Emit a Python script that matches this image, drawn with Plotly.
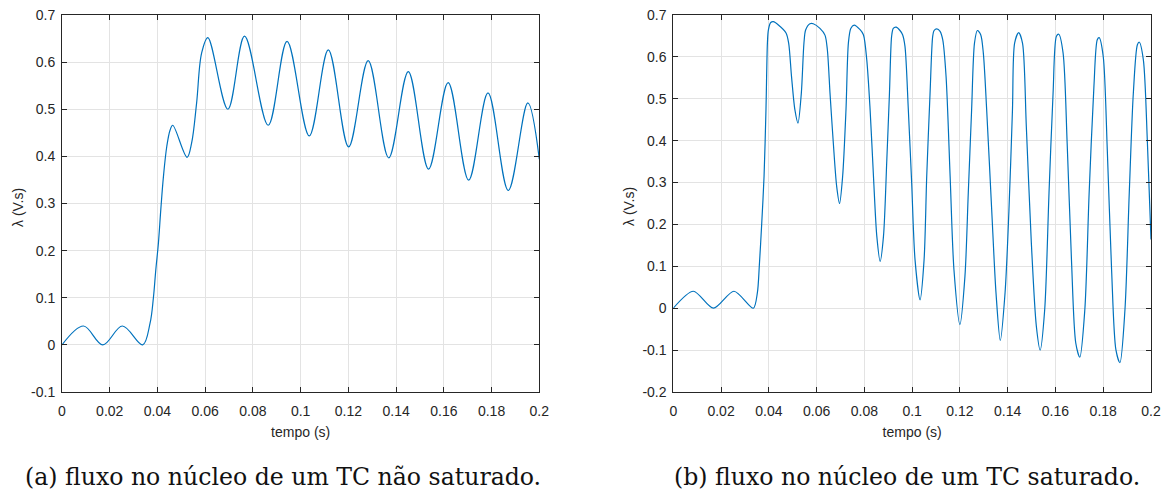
import plotly.graph_objects as go

# ---- data ----
t_a = [0.0, 0.0090, 0.0171, 0.0253, 0.0338, 0.0369, 0.0383, 0.0393, 0.0404, 0.0414,
       0.0425, 0.0439, 0.0453, 0.0464, 0.0524, 0.0543, 0.0564, 0.0585, 0.0611, 0.0695,
       0.0765, 0.0864, 0.0943, 0.1036, 0.1116, 0.1201, 0.1283, 0.1369, 0.1451, 0.1536,
       0.1618, 0.1704, 0.1785, 0.1870, 0.1952, 0.2000]
lam_a = [0.0, 0.040, 0.000, 0.040, 0.000, 0.046, 0.100, 0.159, 0.216, 0.287,
         0.357, 0.421, 0.456, 0.466, 0.398, 0.428, 0.513, 0.619, 0.652, 0.500,
         0.655, 0.466, 0.644, 0.4435, 0.626, 0.420, 0.603, 0.397, 0.580, 0.373,
         0.5565, 0.3495, 0.5346, 0.3276, 0.5134, 0.394]

t_b = [0.0, 0.0084, 0.0168, 0.0254, 0.0335, 0.0352, 0.0360, 0.0370, 0.0380, 0.0388,
       0.0394, 0.0398, 0.0408, 0.0419, 0.0440, 0.0472, 0.0483, 0.0495, 0.0509, 0.0522,
       0.0536, 0.0547, 0.0554, 0.0572, 0.0586, 0.0614, 0.0635, 0.0645, 0.0656, 0.0670,
       0.0684, 0.0696, 0.0709, 0.0723, 0.0733, 0.0743, 0.0757, 0.0782, 0.0796, 0.0810,
       0.0824, 0.0838, 0.0852, 0.0866, 0.0880, 0.0894, 0.0905, 0.0914, 0.0921, 0.0933,
       0.0949, 0.0960, 0.0970, 0.0984, 0.0998, 0.1012, 0.1033, 0.1050, 0.1061, 0.1075,
       0.1086, 0.1092, 0.1103, 0.1117, 0.1128, 0.1142, 0.1159, 0.1175, 0.1200, 0.1221,
       0.1235, 0.1249, 0.1261, 0.1273, 0.1287, 0.1298, 0.1312, 0.1333, 0.1351, 0.1369,
       0.1389, 0.1405, 0.1420, 0.1429, 0.1446, 0.1462, 0.1478, 0.1499, 0.1520, 0.1536,
       0.1555, 0.1573, 0.1590, 0.1604, 0.1614, 0.1632, 0.1649, 0.1667, 0.1685, 0.1702,
       0.1723, 0.1741, 0.1761, 0.1775, 0.1783, 0.1800, 0.1817, 0.1835, 0.1853, 0.1870,
       0.1891, 0.1909, 0.1926, 0.1943, 0.1951, 0.1968, 0.1985, 0.2000]
lam_b = [0.0, 0.0405, 0.0, 0.0405, 0.0, 0.037, 0.100, 0.200, 0.315, 0.474,
         0.633, 0.664, 0.682, 0.684, 0.676, 0.657, 0.633, 0.553, 0.474, 0.442,
         0.513, 0.633, 0.664, 0.679, 0.679, 0.668, 0.652, 0.617, 0.514, 0.394,
         0.291, 0.250, 0.315, 0.474, 0.633, 0.668, 0.676, 0.665, 0.653, 0.593,
         0.474, 0.315, 0.172, 0.112, 0.172, 0.355, 0.513, 0.649, 0.668, 0.671,
         0.663, 0.653, 0.625, 0.474, 0.299, 0.116, 0.020, 0.116, 0.315, 0.513,
         0.649, 0.663, 0.667, 0.661, 0.641, 0.553, 0.315, 0.092, -0.039, 0.076,
         0.275, 0.474, 0.633, 0.663, 0.653, 0.609, 0.474, 0.235, 0.037, -0.077,
         0.037, 0.230, 0.474, 0.633, 0.658, 0.633, 0.434, 0.156, -0.043, -0.100,
         -0.003, 0.275, 0.513, 0.649, 0.654, 0.609, 0.394, 0.116, -0.083, -0.117,
         -0.003, 0.275, 0.529, 0.641, 0.646, 0.601, 0.378, 0.092, -0.099, -0.130,
         -0.003, 0.275, 0.513, 0.629, 0.635, 0.593, 0.394, 0.164]

x_ticks = [0, 0.02, 0.04, 0.06, 0.08, 0.1, 0.12, 0.14, 0.16, 0.18, 0.2]
x_ticktext = ["0", "0.02", "0.04", "0.06", "0.08", "0.1", "0.12", "0.14", "0.16", "0.18", "0.2"]
y_ticks_a = [-0.1, 0, 0.1, 0.2, 0.3, 0.4, 0.5, 0.6, 0.7]
y_ticktext_a = ["-0.1", "0", "0.1", "0.2", "0.3", "0.4", "0.5", "0.6", "0.7"]
y_ticks_b = [-0.2, -0.1, 0, 0.1, 0.2, 0.3, 0.4, 0.5, 0.6, 0.7]
y_ticktext_b = ["-0.2", "-0.1", "0", "0.1", "0.2", "0.3", "0.4", "0.5", "0.6", "0.7"]

x_title = "tempo (s)"
y_title = "λ (V.s)"
caption_a = "(a) fluxo no núcleo de um TC não saturado."
caption_b = "(b) fluxo no núcleo de um TC saturado."

# ---- figure ----
W, H = 1166, 492
ML, MR, MT, MB = 62, 15, 15, 100
PW = W - ML - MR
PH = H - MT - MB
LINE = "#0072BD"
AX = "#262626"
GRID = "#e3e3e3"
FONT = "Liberation Sans, Arial, sans-serif"

fig = go.Figure()
fig.add_trace(go.Scatter(x=t_a, y=lam_a, mode="lines", xaxis="x", yaxis="y",
                         line=dict(color=LINE, width=1.2, shape="spline", smoothing=1.0),
                         showlegend=False, hoverinfo="skip"))
fig.add_trace(go.Scatter(x=t_b, y=lam_b, mode="lines", xaxis="x2", yaxis="y2",
                         line=dict(color=LINE, width=1.2, shape="spline", smoothing=0.8),
                         showlegend=False, hoverinfo="skip"))

xa_dom = [0, (539.3 - ML) / PW]
xb_dom = [(673.3 - ML) / PW, 1]

def xaxis(dom, anchor):
    return dict(domain=dom, anchor=anchor, range=[0, 0.2], tickmode="array",
                tickvals=x_ticks, ticktext=x_ticktext, ticks="inside", ticklen=5,
                tickwidth=1, tickcolor=AX, showline=True, linecolor=AX, linewidth=1,
                mirror="ticks", showgrid=True, gridcolor=GRID, gridwidth=1,
                zeroline=False, automargin=False, ticklabelstandoff=6,
                tickfont=dict(family=FONT, size=14, color=AX),
                title=dict(text=x_title, font=dict(family=FONT, size=14, color=AX),
                           standoff=9))

def yaxis(anchor, rng, tv, tt):
    return dict(domain=[0, 1], anchor=anchor, range=rng, tickmode="array",
                tickvals=tv, ticktext=tt, ticks="inside", ticklen=5,
                tickwidth=1, tickcolor=AX, showline=True, linecolor=AX, linewidth=1,
                mirror="ticks", showgrid=True, gridcolor=GRID, gridwidth=1,
                zeroline=False, automargin=False, ticklabelstandoff=3,
                tickfont=dict(family=FONT, size=14, color=AX))

fig.update_layout(
    width=W, height=H,
    margin=dict(l=ML, r=MR, t=MT, b=MB),
    paper_bgcolor="white", plot_bgcolor="white",
    xaxis=xaxis(xa_dom, "y"),
    yaxis=yaxis("x", [-0.1, 0.7], y_ticks_a, y_ticktext_a),
    xaxis2=xaxis(xb_dom, "y2"),
    yaxis2=yaxis("x2", [-0.2, 0.7], y_ticks_b, y_ticktext_b),
)

# y-axis titles (rotated), placed like the reference
YT_FONT = dict(family=FONT, size=14, color=AX)
ytitle_y = (H - MB - 207) / PH
for px in (18, 629):
    fig.add_annotation(text=y_title, xref="paper", yref="paper", x=(px - ML) / PW,
                       y=ytitle_y, xanchor="center", yanchor="middle", textangle=-90,
                       showarrow=False, font=YT_FONT)

CAP_FONT = dict(family="DejaVu Serif, Liberation Serif, serif", size=23.6, color="#111111")
cap_y = -(477 - (H - MB)) / PH
fig.add_annotation(text=caption_a, xref="paper", yref="paper", x=(283 - ML) / PW, y=cap_y,
                   xanchor="center", yanchor="middle", showarrow=False, font=CAP_FONT)
fig.add_annotation(text=caption_b, xref="paper", yref="paper", x=(907 - ML) / PW, y=cap_y,
                   xanchor="center", yanchor="middle", showarrow=False, font=CAP_FONT)

fig.write_html("out.html", config={"displayModeBar": False},
               post_script="document.body.style.margin='0';")
